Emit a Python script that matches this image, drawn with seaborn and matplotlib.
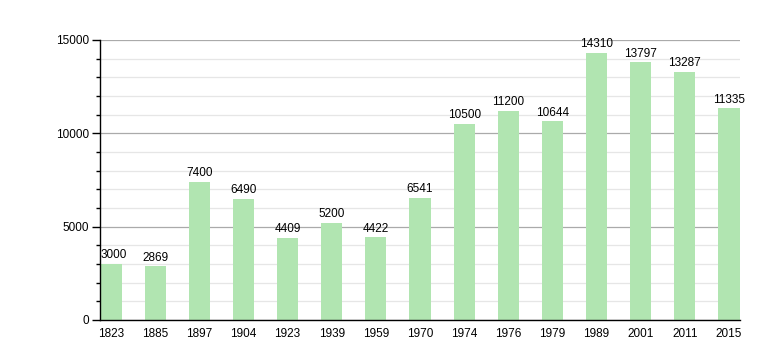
import matplotlib
matplotlib.use("Agg")
import matplotlib.pyplot as plt
import seaborn as sns
import pandas as pd
from matplotlib.ticker import MultipleLocator

years = ["1823", "1885", "1897", "1904", "1923", "1939", "1959", "1970",
         "1974", "1976", "1979", "1989", "2001", "2011", "2015"]
population = [3000, 2869, 7400, 6490, 4409, 5200, 4422, 6541,
              10500, 11200, 10644, 14310, 13797, 13287, 11335]

sns.set_theme(style="white")
plt.rcParams['font.family'] = ['Liberation Sans', 'DejaVu Sans']
plt.rcParams['text.color'] = 'black'
plt.rcParams['xtick.color'] = 'black'
plt.rcParams['ytick.color'] = 'black'

df = pd.DataFrame({"year": years, "pop": population})

fig = plt.figure(figsize=(7.8, 3.6), dpi=100)
ax = fig.add_axes([100/780, 1-320/360, 640/780, 280/360])

sns.barplot(data=df, x="year", y="pop", color="#b1e5b1", saturation=1,
            width=0.48, ax=ax, zorder=3, linewidth=0, edgecolor="none")

ax.set_xlim(-0.25, 14.25)
ax.set_ylim(0, 15000)
ax.yaxis.set_major_locator(MultipleLocator(5000))
ax.yaxis.set_minor_locator(MultipleLocator(1000))
ax.grid(which="major", axis="y", color="#aaaaaa", linewidth=0.9, zorder=0)
ax.grid(which="minor", axis="y", color="#e6e6e6", linewidth=0.9, zorder=0)
ax.set_axisbelow(True)

for s in ["top", "right"]:
    ax.spines[s].set_visible(False)
for s in ["left", "bottom"]:
    ax.spines[s].set_visible(True)
    ax.spines[s].set_color("black")
    ax.spines[s].set_linewidth(1.0)
    ax.spines[s].set_zorder(5)

ax.tick_params(axis="y", which="major", left=True, length=6, width=1,
               color="black", labelcolor="black", labelsize=8.5, pad=2)
ax.tick_params(axis="y", which="minor", left=True, length=3, width=1,
               color="black")
ax.tick_params(axis="x", bottom=False, labelsize=8.5, labelcolor="black", pad=0)
ax.set_xlabel("")
ax.set_ylabel("")

for i, v in enumerate(population):
    if i == 0:
        ax.text(i - 0.24, v + 150, str(v), ha="left", va="bottom",
                fontsize=8.5, color="black", zorder=4)
    else:
        ax.text(i, v + 150, str(v), ha="center", va="bottom", fontsize=8.5,
                color="black", zorder=4)

fig.savefig("out.png", dpi=100, facecolor="white")
